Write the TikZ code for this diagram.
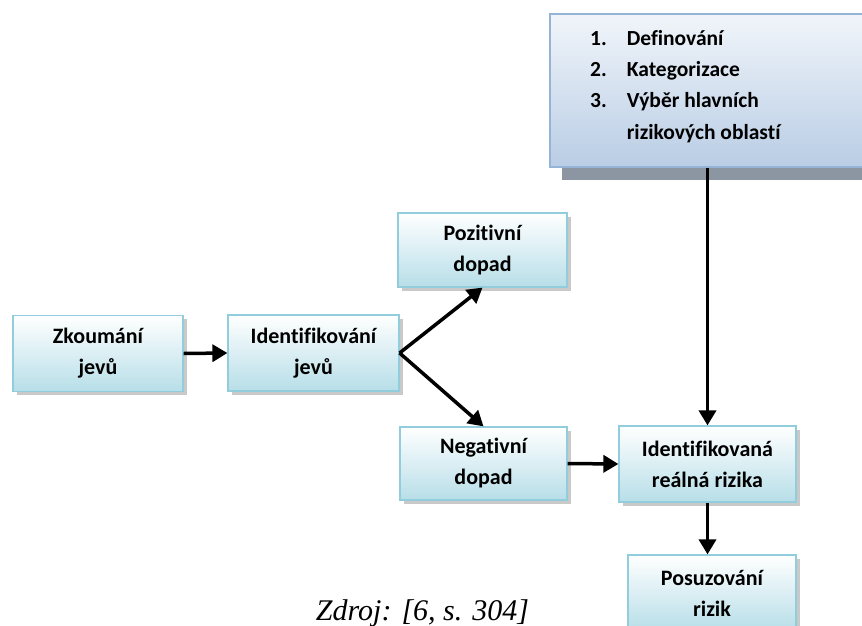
\documentclass[tikz,border=0pt]{standalone}
\usepackage{fontspec}
\setmainfont{Carlito}[Ligatures=NoCommon]
\newfontfamily\zdrojfont{Liberation Serif}
\usetikzlibrary{arrows.meta,shadows}
\definecolor{okraj}{RGB}{146,205,221}
\definecolor{spodek}{RGB}{183,222,232}
\definecolor{okrajmodry}{RGB}{149,179,215}
\definecolor{spodekmodry}{RGB}{185,205,229}
\definecolor{stin}{RGB}{140,150,162}
\tikzset{
	krok/.style={draw=okraj, line width=1.2pt, top color=white, bottom color=spodek,
		minimum width=170pt, minimum height=76pt, inner sep=0pt, align=center,
		font=\fontsize{22}{31}\selectfont\bfseries,
		drop shadow={shadow xshift=3.5pt, shadow yshift=-3.5pt, fill=black!30, opacity=0.7}},
	sipka/.style={line width=3.5pt, -{Triangle[length=15pt,width=17pt]}}
}
\begin{document}
\begin{tikzpicture}[x=1pt,y=-1pt]
		\useasboundingbox (0,0) rectangle (862,626);
		% Horni blok
			\fill[stin] (562,26) rectangle (880,180);
			\node[draw=okrajmodry, line width=1.2pt, top color=white!80!spodekmodry, bottom color=spodekmodry, minimum width=330pt, minimum height=153pt, inner sep=0pt] (kroky) at (715,90.5) {};
			\node[anchor=base west, inner sep=0pt, font=\fontsize{21.5}{31}\selectfont\bfseries] (seznam) at (590,46) {\begin{tabular}[t]{@{}l@{\hspace{20pt}}l@{}}
				1. & Definování\\
				2. & Kategorizace\\
				3. & Výběr hlavních\\
				   & rizikových oblastí
			\end{tabular}};
		% Bloky
			\node[krok] (zkoum) at (98,353.5) {Zkoumání\\jevů};
			\node[krok, minimum width=171pt] (ident) at (313.5,353) {Identifikování\\jevů};
			\node[krok, minimum width=169pt, minimum height=74pt] (pozit) at (482.5,250) {Pozitivní\\dopad};
			\node[krok, minimum width=167pt, minimum height=73pt] (negat) at (483.5,463.5) {Negativní\\dopad};
			\node[krok, minimum width=177pt] (riziko) at (707.5,464) {Identifikovaná\\reálná rizika};
			\node[krok, minimum width=168pt] (posouz) at (712,593) {Posuzování\\rizik};
		% Sipky
			\draw[sipka] (zkoum.east) -- (ident.west);
			\draw[sipka] (ident.east) -- (pozit.south);
			\draw[sipka] (ident.east) -- (negat.north);
			\draw[sipka] (negat.east) -- (riziko.west);
			\draw[sipka] (kroky.south -| riziko.north) -- (riziko.north);
			\draw[sipka] (riziko.south) -- (riziko.south |- posouz.north);
		% Zdroj
			\node[anchor=base, inner sep=0pt, font=\zdrojfont\itshape\fontsize{30}{36}\selectfont] (zdroj) at (422.5,620) {Zdroj: [6, s. 304]};
	\end{tikzpicture}
\end{document}
